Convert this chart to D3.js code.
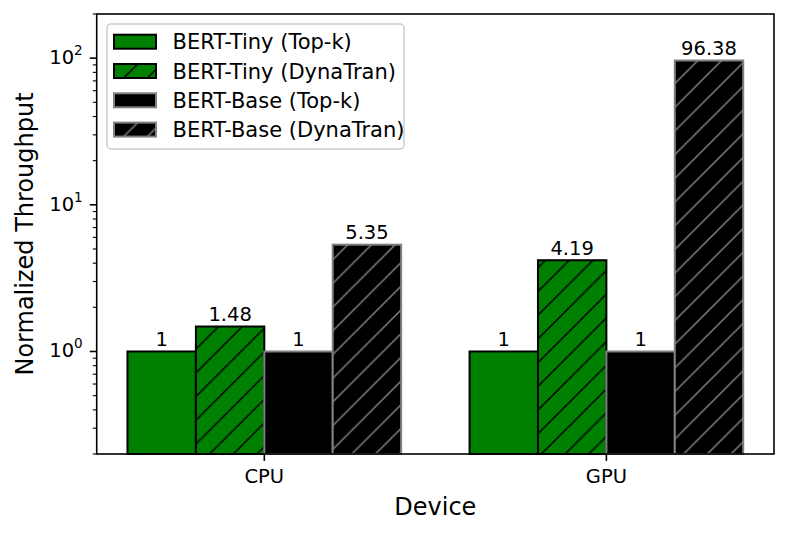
<!DOCTYPE html>
<html>
<head>
<meta charset="utf-8">
<script src="https://cdn.jsdelivr.net/npm/d3@7"></script>
<style>
  body { margin: 0; background: #fff; }
  text { font-family: "DejaVu Sans", sans-serif; }
</style>
</head>
<body>
<svg id="chart" width="789" height="534"></svg>
<script>
const devices = ["CPU", "GPU"];
const seriesNames = ["BERT-Tiny (Top-k)", "BERT-Tiny (DynaTran)", "BERT-Base (Top-k)", "BERT-Base (DynaTran)"];
const tinyTopk = [1, 1];
const tinyDyna = [1.48, 4.19];
const baseTopk = [1, 1];
const baseDyna = [5.35, 96.38];
const valueLabels = [["1", "1"], ["1.48", "4.19"], ["1", "1"], ["5.35", "96.38"]];
const yTickValues = [1, 10, 100];
const yTickExp = ["0", "1", "2"];

const series = [tinyTopk, tinyDyna, baseTopk, baseDyna];
const fills = ["#008000", "#008000", "#000000", "#000000"];
const edges = ["#000000", "#000000", "#808080", "#808080"];
const hatched = [false, true, false, true];

const svg = d3.select("#chart");
const margin = { left: 96.7, right: 15, top: 14, bottom: 80 };
const W = 789, H = 534;
const x0 = margin.left, x1 = W - margin.right, y0 = margin.top, y1 = H - margin.bottom;

// hatch patterns ('/' style)
const defs = svg.append("defs");
["#000000", "#808080"].forEach((c, i) => {
    const p = defs.append("pattern")
        .attr("id", "hatch" + i)
        .attr("patternUnits", "userSpaceOnUse")
        .attr("width", 23.7).attr("height", 23.7);
    p.append("path")
        .attr("d", "M-2,25.7 L25.7,-2 M-6,6 L6,-6 M17.7,29.7 L29.7,17.7")
        .attr("stroke", c).attr("stroke-width", 1.5);
});

const xScale = d3.scaleLinear().domain([-0.49, 1.49]).range([x0, x1]);
const yScale = d3.scaleLog().domain([0.2, 200]).range([y1, y0]);
const barW = 0.2;
const offsets = [-0.3, -0.1, 0.1, 0.3];

const g = svg.append("g");

series.forEach((vals, si) => {
    vals.forEach((v, di) => {
        const cx = di + offsets[si];
        const bx = xScale(cx - barW / 2), bw = xScale(cx + barW / 2) - bx;
        const by = yScale(v), bh = y1 - by;
        g.append("rect")
            .attr("x", bx).attr("y", by).attr("width", bw).attr("height", bh)
            .attr("fill", fills[si]);
        if (hatched[si]) {
            g.append("rect")
                .attr("x", bx).attr("y", by).attr("width", bw).attr("height", bh)
                .attr("fill", `url(#hatch${si < 2 ? 0 : 1})`);
        }
        g.append("rect")
            .attr("x", bx).attr("y", by).attr("width", bw).attr("height", bh)
            .attr("fill", "none").attr("stroke", edges[si]).attr("stroke-width", 2);
        g.append("text")
            .attr("x", xScale(cx)).attr("y", by - 5.5)
            .attr("text-anchor", "middle")
            .attr("font-size", 19.5)
            .text(valueLabels[si][di]);
    });
});

// y axis ticks
const minorTicks = [];
[0.1, 1, 10, 100].forEach(d => {
    for (let k = 2; k <= 9; k++) {
        const v = d * k;
        if (v >= 0.2 && v <= 200 && !yTickValues.includes(v)) minorTicks.push(v);
    }
});
minorTicks.forEach(v => {
    svg.append("line")
        .attr("x1", x0 - 3.9).attr("x2", x0)
        .attr("y1", yScale(v)).attr("y2", yScale(v))
        .attr("stroke", "#000").attr("stroke-width", 1.1);
});
yTickValues.forEach((v, i) => {
    svg.append("line")
        .attr("x1", x0 - 6.9).attr("x2", x0)
        .attr("y1", yScale(v)).attr("y2", yScale(v))
        .attr("stroke", "#000").attr("stroke-width", 1.6);
    const t = svg.append("text")
        .attr("x", x0 - 14).attr("y", yScale(v) + 6)
        .attr("text-anchor", "end")
        .attr("font-size", 19.5);
    t.append("tspan").text("10");
    t.append("tspan").attr("font-size", 13.5).attr("dy", -9).text(yTickExp[i]);
});

// x axis ticks
devices.forEach((d, i) => {
    svg.append("line")
        .attr("x1", xScale(i)).attr("x2", xScale(i))
        .attr("y1", y1).attr("y2", y1 + 6.9)
        .attr("stroke", "#000").attr("stroke-width", 1.6);
    svg.append("text")
        .attr("x", xScale(i)).attr("y", y1 + 29)
        .attr("text-anchor", "middle")
        .attr("font-size", 19.5)
        .text(d);
});

// spines
svg.append("rect")
    .attr("x", x0).attr("y", y0).attr("width", x1 - x0).attr("height", y1 - y0)
    .attr("fill", "none").attr("stroke", "#000").attr("stroke-width", 1.6);

// axis labels
svg.append("text")
    .attr("x", (x0 + x1) / 2).attr("y", 515)
    .attr("text-anchor", "middle")
    .attr("font-size", 24)
    .text("Device");
svg.append("text")
    .attr("transform", `translate(33, ${(y0 + y1) / 2}) rotate(-90)`)
    .attr("text-anchor", "middle")
    .attr("font-size", 24)
    .text("Normalized Throughput");

// legend
const legend = svg.append("g").attr("transform", "translate(107,24)");
legend.append("rect")
    .attr("width", 297).attr("height", 125).attr("rx", 4)
    .attr("fill", "#fff").attr("fill-opacity", 0.8)
    .attr("stroke", "#cccccc").attr("stroke-width", 1.5);
seriesNames.forEach((name, i) => {
    const row = legend.append("g").attr("transform", `translate(0, ${17.7 + i * 29.3})`);
    row.append("rect")
        .attr("x", 7).attr("y", -7).attr("width", 42).attr("height", 14)
        .attr("fill", fills[i]);
    if (hatched[i]) {
        row.append("rect")
            .attr("x", 7).attr("y", -7).attr("width", 42).attr("height", 14)
            .attr("fill", `url(#hatch${i < 2 ? 0 : 1})`);
    }
    row.append("rect")
        .attr("x", 7).attr("y", -7).attr("width", 42).attr("height", 14)
        .attr("fill", "none").attr("stroke", edges[i]).attr("stroke-width", 2);
    row.append("text")
        .attr("x", 65.5).attr("y", 7.5)
        .attr("font-size", 21)
        .text(name);
});
</script>
</body>
</html>
